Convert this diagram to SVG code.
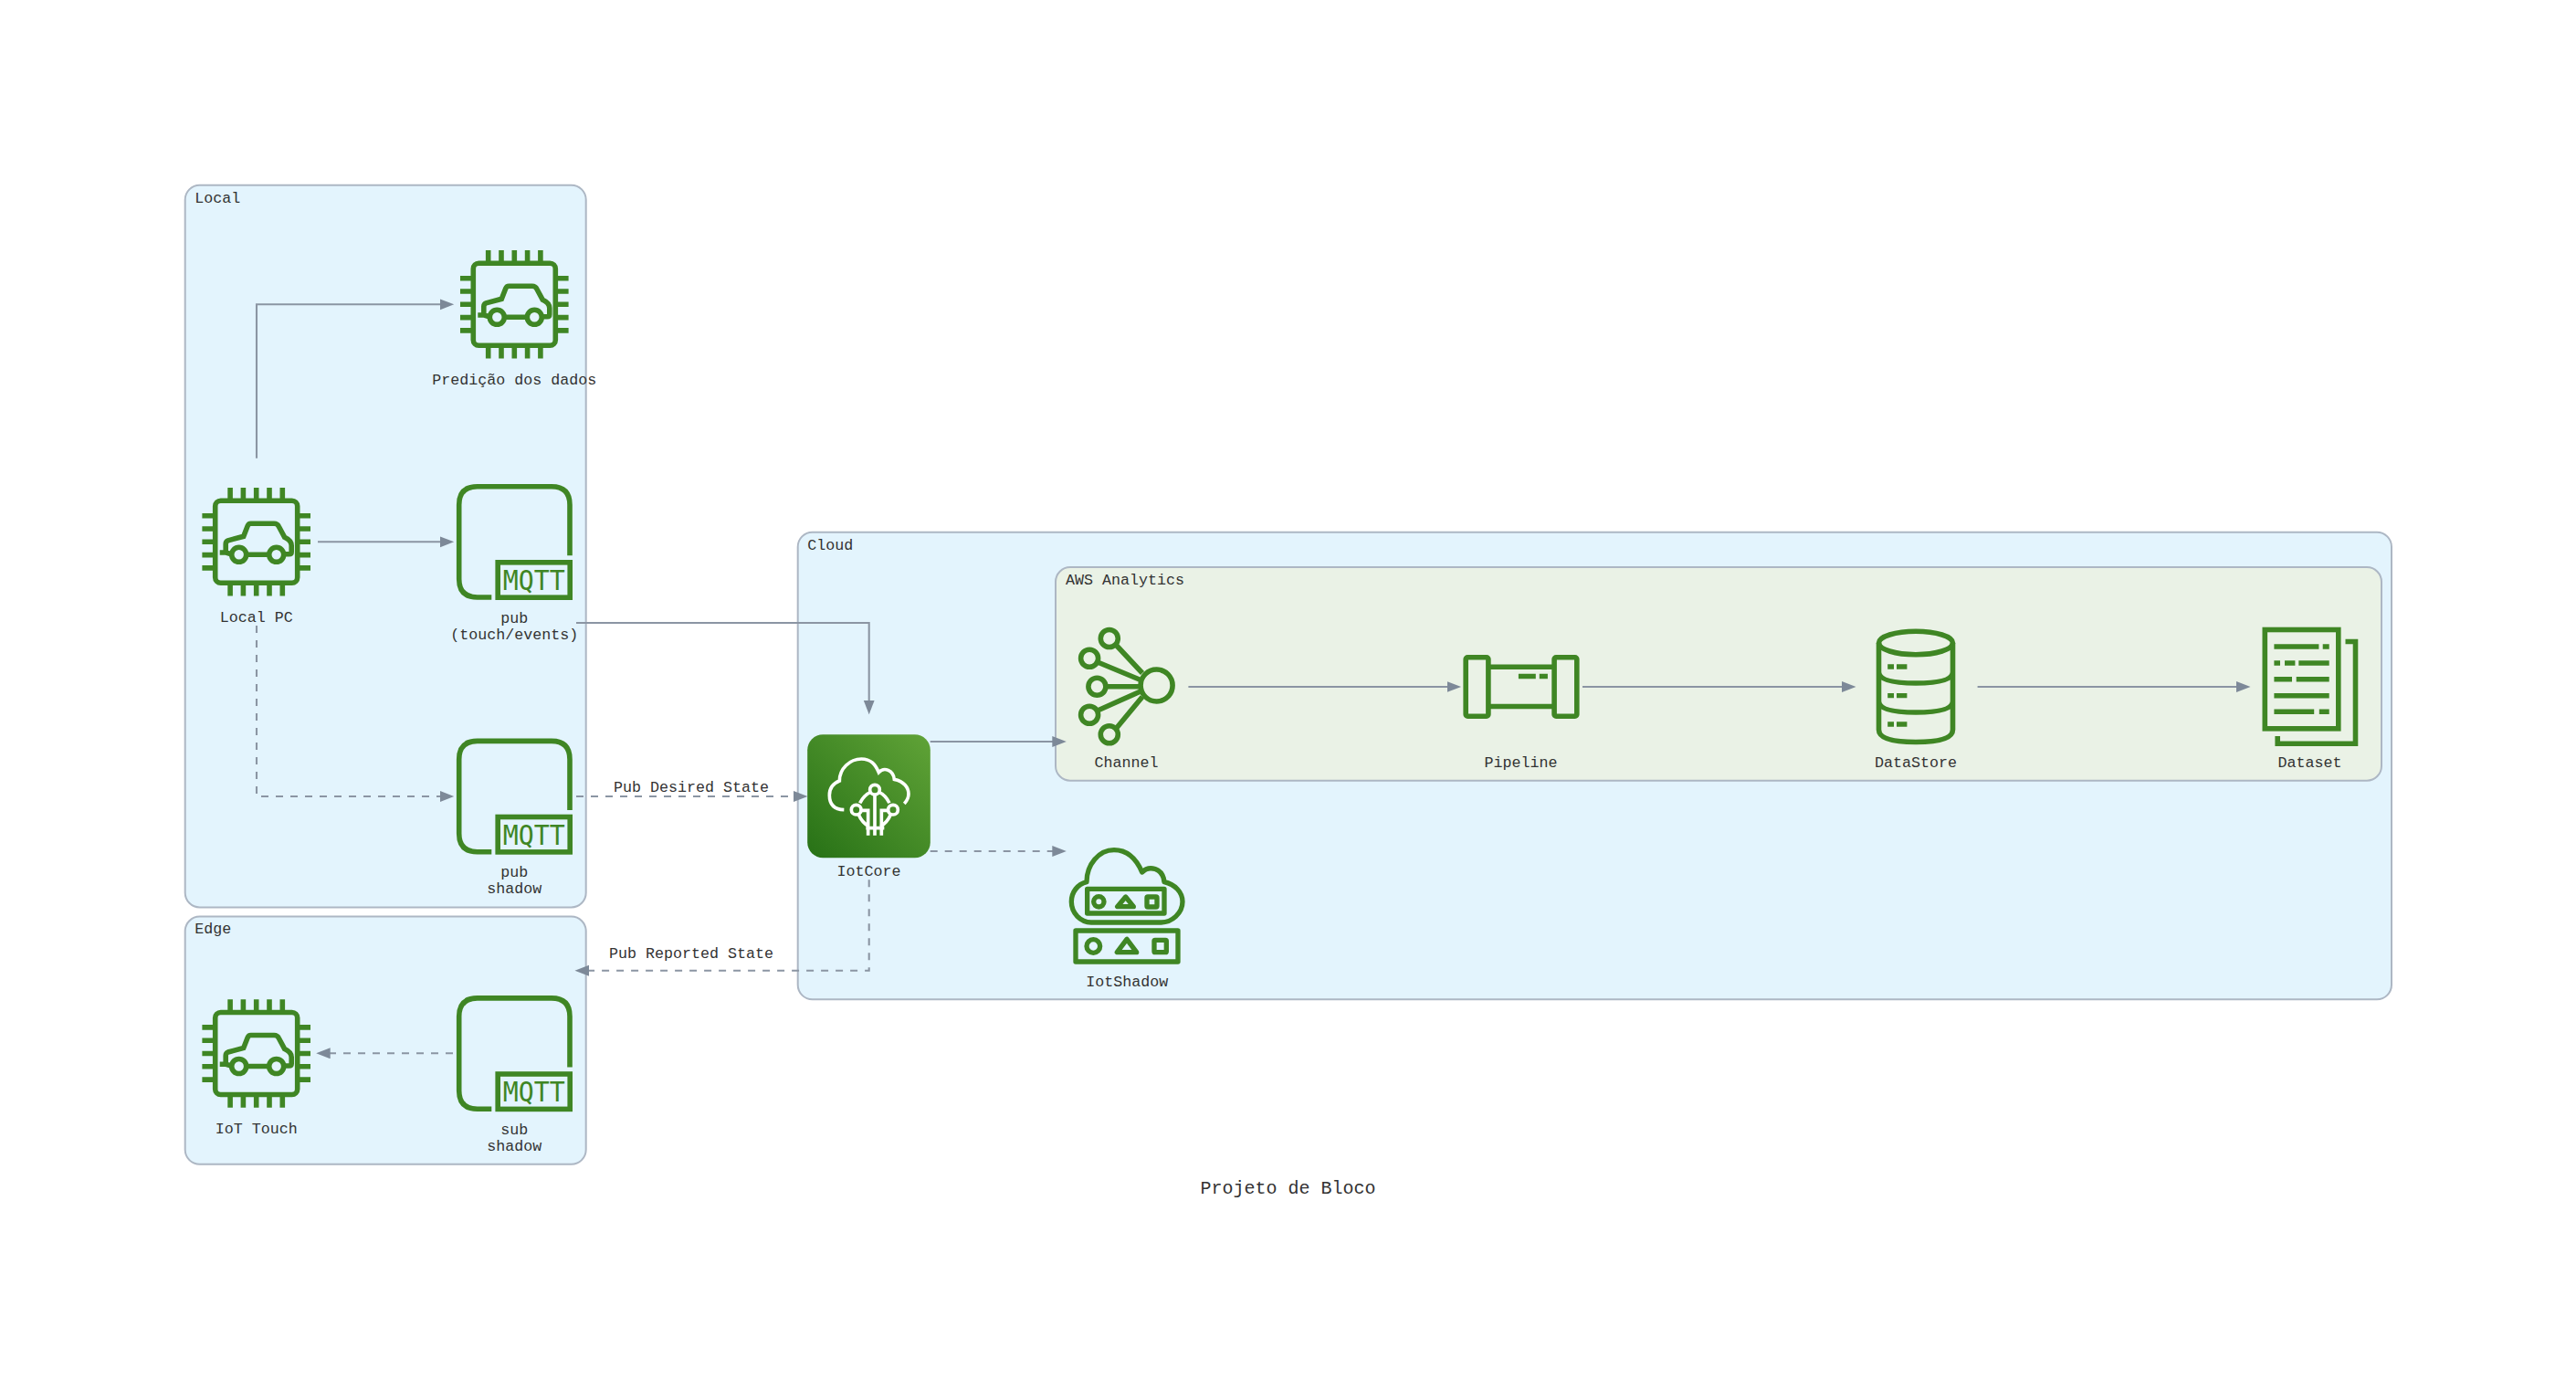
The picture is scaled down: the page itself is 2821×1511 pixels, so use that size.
<svg xmlns="http://www.w3.org/2000/svg" xmlns:xlink="http://www.w3.org/1999/xlink" width="2821" height="1511" viewBox="0 0 2821 1511">
<style>
text{font-family:"Liberation Mono",monospace;font-size:16.67px;fill:#333}
.m{text-anchor:middle}
.title{font-size:20px}
.cl{stroke:#adb7c4;stroke-width:2}
.blue{fill:#e3f4fd}
.green{fill:#eaf2e6}
.ic{fill:none;stroke:#3f8624;stroke-width:5.6}
.ib{fill:#3f8624}
.w{fill:none;stroke:#fff;stroke-width:11}
.c{fill:none;stroke:#8b95a3;stroke-width:2.1;marker-end:url(#arr)}
.d{stroke-dasharray:8 8}
.mq{font-family:"DejaVu Sans Mono",monospace;font-size:30px;fill:#3f8624}
</style>
<defs>
<marker id="arr" markerUnits="userSpaceOnUse" markerWidth="17" markerHeight="13" refX="8" refY="6" orient="auto"><path d="M0,0L15.5,6L0,12Z" fill="#7d8998"/></marker>
<linearGradient id="iot" x1="0" y1="1" x2="1" y2="0"><stop offset="0" stop-color="#277116"/><stop offset="1" stop-color="#60a337"/></linearGradient>
<g id="chip">
<rect class="ic" x="-45" y="-45" width="90" height="90" rx="6"/>
<path class="ic" d="M-59.3-28.6H-47M-59.3-14.3H-47M-59.3 0H-47M-59.3 14.3H-47M-59.3 28.6H-47M47-28.6H59.3M47-14.3H59.3M47 0H59.3M47 14.3H59.3M47 28.6H59.3M-28.6-59.3V-47M-14.3-59.3V-47M0-59.3V-47M14.3-59.3V-47M28.6-59.3V-47M-28.6 47V59.3M-14.3 47V59.3M0 47V59.3M14.3 47V59.3M28.6 47V59.3"/>
<circle class="ic" cx="-19" cy="14" r="8"/>
<circle class="ic" cx="22" cy="14" r="8"/>
<path class="ic" d="M-40 11.7H-33M-27.5 13.5L-33.5 11.7V2.5Q-33.5-.5-31-1.5L-14-6L-9.5-17.5Q-8.5-20-6-20H19.5Q23-20 24.5-17L31-5Q38.5-1.5 38.5 4V11Q38.5 13.5 36 13.5H30M-11 14H14"/>
</g>
<g id="mqtt">
<path class="ic" d="M60.7 15V-40.6Q60.7-60.6 40.7-60.6H-40.6Q-60.6-60.6-60.6-40.6V40.7Q-60.6 60.7-40.6 60.7H-25"/>
<rect class="ic" x="-18.1" y="22.5" width="79" height="38.4"/>
<text class="mq" x="21.5" y="52.5" text-anchor="middle" textLength="68" lengthAdjust="spacingAndGlyphs">MQTT</text>
</g>
</defs>
<g id="clusters">
<g id="cluster-local"><rect class="cl blue" x="202.7" y="202.7" width="439" height="790.8" rx="16"/><text x="213.3" y="221.7">Local</text></g>
<g id="cluster-edge"><rect class="cl blue" x="202.7" y="1003.5" width="439" height="271.3" rx="16"/><text x="213.3" y="1022.2">Edge</text></g>
<g id="cluster-cloud"><rect class="cl blue" x="873.7" y="582.7" width="1745.3" height="511.6" rx="16"/><text x="884.3" y="601.5">Cloud</text></g>
<g id="cluster-analytics"><rect class="cl green" x="1156" y="621" width="1452" height="233.7" rx="16"/><text x="1167" y="639.5">AWS Analytics</text></g>
</g>
<g id="connectors">
<path class="c" d="M281 501.7V333.3H489.7"/>
<path class="c" d="M348 593.3H489.7"/>
<path class="c" d="M631 682H951.7V774.7"/>
<path class="c d" d="M281 685V872H489.7"/>
<path class="c d" d="M631 872H877"/>
<path class="c" d="M1018.7 812H1160.3"/>
<path class="c d" d="M1018.7 932H1160.3"/>
<path class="c d" d="M951.7 963.3V1062.7H637"/>
<path class="c d" d="M496 1153.3H353.7"/>
<path class="c" d="M1301.4 752H1592.6"/>
<path class="c" d="M1733 752H2025"/>
<path class="c" d="M2165.6 752H2457"/>
<text class="m" x="757" y="867">Pub Desired State</text>
<text class="m" x="757" y="1049">Pub Reported State</text>
</g>
<g id="node-prediction"><use xlink:href="#chip" href="#chip" x="563.3" y="333.3"/><text class="m" x="563.3" y="420.5">Predição dos dados</text></g>
<g id="node-localpc"><use xlink:href="#chip" href="#chip" x="280.7" y="593.3"/><text class="m" x="280.7" y="680.5">Local PC</text></g>
<g id="node-pub-touch"><use xlink:href="#mqtt" href="#mqtt" x="563.3" y="593.3"/><text class="m" x="563.3"><tspan x="563.3" y="681.5">pub</tspan><tspan x="563.3" y="699.7">(touch/events)</tspan></text></g>
<g id="node-pub-shadow"><use xlink:href="#mqtt" href="#mqtt" x="563.3" y="872"/><text class="m"><tspan x="563.3" y="960.2">pub</tspan><tspan x="563.3" y="978.4">shadow</tspan></text></g>
<g id="node-sub-shadow"><use xlink:href="#mqtt" href="#mqtt" x="563.3" y="1153.5"/><text class="m"><tspan x="563.3" y="1241.7">sub</tspan><tspan x="563.3" y="1259.9">shadow</tspan></text></g>
<g id="node-iot-touch"><use xlink:href="#chip" href="#chip" x="280.7" y="1153.5"/><text class="m" x="280.7" y="1240.7">IoT Touch</text></g>
<g id="node-iotcore">
<rect x="884.2" y="804.2" width="134.6" height="135" rx="17" fill="url(#iot)"/>
<g transform="translate(860 780) scale(.3333)">
<path class="w" d="M193 320Q145 318 145 272Q145 238 178 225C178 185 212 153 250 153C282 153 296 172 307 197C325 178 355 190 358 220C390 226 405 248 405 268Q405 285 391 300"/>
<circle class="w" cx="294" cy="254" r="16"/><circle class="w" cx="233" cy="320" r="16"/><circle class="w" cx="354" cy="320" r="16"/>
<path class="w" d="M280 262Q258 272 245 298M308 262Q330 272 342 298M241 336Q252 362 275 375M346 336Q335 362 312 375M294 270V404M272 404V322H250M316 404V322H338M265 380H325"/>
</g>
<text class="m" x="951.5" y="959.3">IotCore</text>
</g>
<g id="node-channel">
<circle class="ic" cx="1266.6" cy="750.5" r="17.5"/>
<circle class="ic" cx="1214.8" cy="699" r="9.5"/><circle class="ic" cx="1193.1" cy="720.7" r="9.5"/><circle class="ic" cx="1201.4" cy="751.7" r="9.5"/><circle class="ic" cx="1193.1" cy="782.7" r="9.5"/><circle class="ic" cx="1214.8" cy="804.3" r="9.5"/>
<path class="ic" d="M1222 706L1251 737M1202 725L1249 744.5M1211 751.7H1249M1202 778L1249 757M1222 798L1251 763"/>
<text class="m" x="1233.6" y="839.5">Channel</text>
</g>
<g id="node-pipeline">
<rect class="ic" x="1605.2" y="719.8" width="24.7" height="64.4" rx="2"/>
<rect class="ic" x="1702.1" y="719.8" width="24.7" height="64.4" rx="2"/>
<path class="ic" d="M1630 730.2H1702M1630 773.5H1702"/>
<path class="ib" d="M1662.9 737.7h18.9v5.6h-18.9zM1685.8 737.7h9.1v5.6h-9.1z"/>
<text class="m" x="1665.5" y="839.5">Pipeline</text>
</g>
<g id="node-datastore">
<ellipse class="ic" cx="2098" cy="704" rx="40.5" ry="12.7"/>
<path class="ic" d="M2057.5 704V799Q2057.5 812.5 2098 812.5T2138.5 799V704M2057.5 736Q2058 748 2098 748T2138.5 736M2057.5 768Q2058 780 2098 780T2138.5 768"/>
<path class="ib" d="M2067.2 727.3h6.8v5.4h-6.8zM2077 727.3h11.4v5.4H2077zM2067.2 759h6.8v5.3h-6.8zM2077 759h11.4v5.3H2077zM2067.2 790.3h6.8v5.4h-6.8zM2077 790.3h11.4v5.4H2077z"/>
<text class="m" x="2098" y="839.5">DataStore</text>
</g>
<g id="node-dataset">
<rect class="ic" x="2480.3" y="689.5" width="80.5" height="108.3"/>
<path class="ic" d="M2568.5 702.5H2579.5V814.2H2494.2V806"/>
<path class="ib" d="M2490.4 705.3h49v5.4h-49zM2543.7 705.3h7v5.4h-7zM2490.4 723.3h6.6v5.4h-6.6zM2502 723.3h11.4v5.4H2502zM2517.3 723.3h33.4v5.4h-33.4zM2490.4 741h19.6v5.4h-19.6zM2514.7 741h36v5.4h-36zM2490.4 759h60.3v5.4h-60.3zM2490.4 776.6h43.8v5.4h-43.8zM2539.8 776.6h10.9v5.4h-10.9z"/>
<text class="m" x="2529.4" y="839.5">Dataset</text>
</g>
<g id="node-iotshadow">
<g transform="translate(1140 900) scale(.3333)" fill="none" stroke="#3f8624" stroke-width="16" stroke-linejoin="round">
<path d="M150 197C150 140 190 92 240 92C285 92 315 125 332 165C355 142 400 150 405 197C440 205 465 230 465 262C465 300 430 330 395 330H165C130 330 100 300 100 262C100 230 120 205 150 197Z"/>
<rect x="152" y="220" width="253" height="80"/>
<circle cx="190" cy="262" r="17"/>
<path d="M251 278H304L278 246Z"/>
<rect x="348" y="246" width="33" height="33" rx="3"/>
<rect x="114" y="357" width="336" height="102"/>
<circle cx="172" cy="408" r="22"/>
<path d="M250 428H314L282 385Z"/>
<rect x="372" y="388" width="40" height="40" rx="3"/>
</g>
<text class="m" x="1234.3" y="1079.5">IotShadow</text>
</g>
<text class="m title" x="1410.5" y="1307">Projeto de Bloco</text>
</svg>
